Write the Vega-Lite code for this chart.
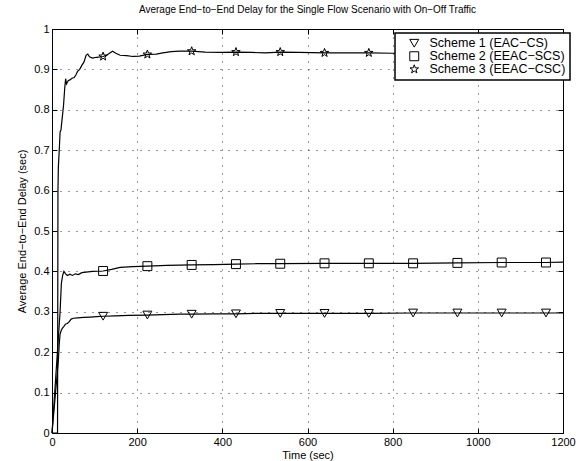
{
  "$schema": "https://vega.github.io/schema/vega-lite/v6.json",
  "width": 511,
  "height": 404,
  "autosize": "none",
  "padding": {"left": 52, "top": 29, "right": 13, "bottom": 28},
  "title": {"text": "Average End−to−End Delay for the Single Flow Scenario with On−Off Traffic", "fontSize": 10, "fontWeight": "normal", "font": "Liberation Sans", "color": "black", "offset": 8},
  "config": {
    "font": "Liberation Sans",
    "view": {"stroke": "black", "strokeWidth": 1},
    "axis": {
      "domainColor": "black", "tickColor": "black", "labelColor": "black", "titleColor": "black",
      "labelFontSize": 11, "titleFontSize": 11, "titleFontWeight": "normal", "labelFlush": false,
      "gridColor": "black", "gridDash": [1, 7], "gridWidth": 1, "gridOpacity": 0.8,
      "tickSize": -5, "labelPadding": 8
    },
    "legend": {
      "orient": "none", "legendX": 343, "legendY": 4,
      "fillColor": "white", "strokeColor": "black", "strokeWidth": 1.5,
      "padding": 4, "labelFontSize": 12.5, "labelColor": "black", "labelOffset": 9, "symbolOffset": 9,
      "symbolStrokeColor": "black", "symbolFillColor": "transparent", "symbolSize": 80, "symbolStrokeWidth": 1,
      "rowPadding": -2, "title": null
    }
  },
  "datasets": {
    "d": [
      {"s": "Scheme 1 (EAC−CS)", "t": 0, "v": 0, "m": 0},
      {"s": "Scheme 1 (EAC−CS)", "t": 15, "v": 0.18, "m": 0},
      {"s": "Scheme 1 (EAC−CS)", "t": 17, "v": 0.22, "m": 0},
      {"s": "Scheme 1 (EAC−CS)", "t": 19, "v": 0.245, "m": 0},
      {"s": "Scheme 1 (EAC−CS)", "t": 22, "v": 0.255, "m": 0},
      {"s": "Scheme 1 (EAC−CS)", "t": 25, "v": 0.26, "m": 0},
      {"s": "Scheme 1 (EAC−CS)", "t": 28, "v": 0.264, "m": 0},
      {"s": "Scheme 1 (EAC−CS)", "t": 32, "v": 0.27, "m": 0},
      {"s": "Scheme 1 (EAC−CS)", "t": 36, "v": 0.271, "m": 0},
      {"s": "Scheme 1 (EAC−CS)", "t": 40, "v": 0.275, "m": 0},
      {"s": "Scheme 1 (EAC−CS)", "t": 45, "v": 0.282, "m": 0},
      {"s": "Scheme 1 (EAC−CS)", "t": 50, "v": 0.284, "m": 0},
      {"s": "Scheme 1 (EAC−CS)", "t": 60, "v": 0.285, "m": 0},
      {"s": "Scheme 1 (EAC−CS)", "t": 75, "v": 0.286, "m": 0},
      {"s": "Scheme 1 (EAC−CS)", "t": 90, "v": 0.287, "m": 0},
      {"s": "Scheme 1 (EAC−CS)", "t": 105, "v": 0.288, "m": 0},
      {"s": "Scheme 1 (EAC−CS)", "t": 120, "v": 0.289, "m": 1},
      {"s": "Scheme 1 (EAC−CS)", "t": 150, "v": 0.29, "m": 0},
      {"s": "Scheme 1 (EAC−CS)", "t": 180, "v": 0.291, "m": 0},
      {"s": "Scheme 1 (EAC−CS)", "t": 224, "v": 0.292, "m": 1},
      {"s": "Scheme 1 (EAC−CS)", "t": 260, "v": 0.293, "m": 0},
      {"s": "Scheme 1 (EAC−CS)", "t": 300, "v": 0.294, "m": 0},
      {"s": "Scheme 1 (EAC−CS)", "t": 328, "v": 0.294, "m": 1},
      {"s": "Scheme 1 (EAC−CS)", "t": 380, "v": 0.295, "m": 0},
      {"s": "Scheme 1 (EAC−CS)", "t": 432, "v": 0.295, "m": 1},
      {"s": "Scheme 1 (EAC−CS)", "t": 480, "v": 0.296, "m": 0},
      {"s": "Scheme 1 (EAC−CS)", "t": 536, "v": 0.296, "m": 1},
      {"s": "Scheme 1 (EAC−CS)", "t": 640, "v": 0.296, "m": 1},
      {"s": "Scheme 1 (EAC−CS)", "t": 744, "v": 0.296, "m": 1},
      {"s": "Scheme 1 (EAC−CS)", "t": 848, "v": 0.297, "m": 1},
      {"s": "Scheme 1 (EAC−CS)", "t": 952, "v": 0.297, "m": 1},
      {"s": "Scheme 1 (EAC−CS)", "t": 1056, "v": 0.297, "m": 1},
      {"s": "Scheme 1 (EAC−CS)", "t": 1160, "v": 0.297, "m": 1},
      {"s": "Scheme 1 (EAC−CS)", "t": 1200, "v": 0.297, "m": 0},

      {"s": "Scheme 2 (EEAC−SCS)", "t": 0, "v": 0, "m": 0},
      {"s": "Scheme 2 (EEAC−SCS)", "t": 19, "v": 0.30, "m": 0},
      {"s": "Scheme 2 (EEAC−SCS)", "t": 22, "v": 0.37, "m": 0},
      {"s": "Scheme 2 (EEAC−SCS)", "t": 25, "v": 0.39, "m": 0},
      {"s": "Scheme 2 (EEAC−SCS)", "t": 28, "v": 0.40, "m": 0},
      {"s": "Scheme 2 (EEAC−SCS)", "t": 32, "v": 0.394, "m": 0},
      {"s": "Scheme 2 (EEAC−SCS)", "t": 36, "v": 0.39, "m": 0},
      {"s": "Scheme 2 (EEAC−SCS)", "t": 42, "v": 0.393, "m": 0},
      {"s": "Scheme 2 (EEAC−SCS)", "t": 48, "v": 0.39, "m": 0},
      {"s": "Scheme 2 (EEAC−SCS)", "t": 55, "v": 0.394, "m": 0},
      {"s": "Scheme 2 (EEAC−SCS)", "t": 62, "v": 0.392, "m": 0},
      {"s": "Scheme 2 (EEAC−SCS)", "t": 70, "v": 0.397, "m": 0},
      {"s": "Scheme 2 (EEAC−SCS)", "t": 80, "v": 0.398, "m": 0},
      {"s": "Scheme 2 (EEAC−SCS)", "t": 95, "v": 0.40, "m": 0},
      {"s": "Scheme 2 (EEAC−SCS)", "t": 120, "v": 0.401, "m": 1},
      {"s": "Scheme 2 (EEAC−SCS)", "t": 140, "v": 0.405, "m": 0},
      {"s": "Scheme 2 (EEAC−SCS)", "t": 160, "v": 0.41, "m": 0},
      {"s": "Scheme 2 (EEAC−SCS)", "t": 190, "v": 0.412, "m": 0},
      {"s": "Scheme 2 (EEAC−SCS)", "t": 224, "v": 0.413, "m": 1},
      {"s": "Scheme 2 (EEAC−SCS)", "t": 270, "v": 0.415, "m": 0},
      {"s": "Scheme 2 (EEAC−SCS)", "t": 328, "v": 0.416, "m": 1},
      {"s": "Scheme 2 (EEAC−SCS)", "t": 380, "v": 0.417, "m": 0},
      {"s": "Scheme 2 (EEAC−SCS)", "t": 432, "v": 0.418, "m": 1},
      {"s": "Scheme 2 (EEAC−SCS)", "t": 480, "v": 0.419, "m": 0},
      {"s": "Scheme 2 (EEAC−SCS)", "t": 536, "v": 0.419, "m": 1},
      {"s": "Scheme 2 (EEAC−SCS)", "t": 640, "v": 0.42, "m": 1},
      {"s": "Scheme 2 (EEAC−SCS)", "t": 744, "v": 0.42, "m": 1},
      {"s": "Scheme 2 (EEAC−SCS)", "t": 848, "v": 0.42, "m": 1},
      {"s": "Scheme 2 (EEAC−SCS)", "t": 952, "v": 0.421, "m": 1},
      {"s": "Scheme 2 (EEAC−SCS)", "t": 1056, "v": 0.422, "m": 1},
      {"s": "Scheme 2 (EEAC−SCS)", "t": 1160, "v": 0.422, "m": 1},
      {"s": "Scheme 2 (EEAC−SCS)", "t": 1200, "v": 0.423, "m": 0},

      {"s": "Scheme 3 (EEAC−CSC)", "t": 0, "v": 0, "m": 0},
      {"s": "Scheme 3 (EEAC−CSC)", "t": 13, "v": 0, "m": 0},
      {"s": "Scheme 3 (EEAC−CSC)", "t": 14, "v": 0.60, "m": 0},
      {"s": "Scheme 3 (EEAC−CSC)", "t": 15, "v": 0.66, "m": 0},
      {"s": "Scheme 3 (EEAC−CSC)", "t": 17, "v": 0.70, "m": 0},
      {"s": "Scheme 3 (EEAC−CSC)", "t": 19, "v": 0.745, "m": 0},
      {"s": "Scheme 3 (EEAC−CSC)", "t": 21, "v": 0.75, "m": 0},
      {"s": "Scheme 3 (EEAC−CSC)", "t": 24, "v": 0.78, "m": 0},
      {"s": "Scheme 3 (EEAC−CSC)", "t": 27, "v": 0.81, "m": 0},
      {"s": "Scheme 3 (EEAC−CSC)", "t": 30, "v": 0.855, "m": 0},
      {"s": "Scheme 3 (EEAC−CSC)", "t": 32, "v": 0.877, "m": 0},
      {"s": "Scheme 3 (EEAC−CSC)", "t": 34, "v": 0.864, "m": 0},
      {"s": "Scheme 3 (EEAC−CSC)", "t": 38, "v": 0.872, "m": 0},
      {"s": "Scheme 3 (EEAC−CSC)", "t": 42, "v": 0.874, "m": 0},
      {"s": "Scheme 3 (EEAC−CSC)", "t": 47, "v": 0.878, "m": 0},
      {"s": "Scheme 3 (EEAC−CSC)", "t": 52, "v": 0.88, "m": 0},
      {"s": "Scheme 3 (EEAC−CSC)", "t": 56, "v": 0.886, "m": 0},
      {"s": "Scheme 3 (EEAC−CSC)", "t": 60, "v": 0.895, "m": 0},
      {"s": "Scheme 3 (EEAC−CSC)", "t": 65, "v": 0.90, "m": 0},
      {"s": "Scheme 3 (EEAC−CSC)", "t": 70, "v": 0.91, "m": 0},
      {"s": "Scheme 3 (EEAC−CSC)", "t": 75, "v": 0.918, "m": 0},
      {"s": "Scheme 3 (EEAC−CSC)", "t": 80, "v": 0.935, "m": 0},
      {"s": "Scheme 3 (EEAC−CSC)", "t": 84, "v": 0.938, "m": 0},
      {"s": "Scheme 3 (EEAC−CSC)", "t": 88, "v": 0.931, "m": 0},
      {"s": "Scheme 3 (EEAC−CSC)", "t": 95, "v": 0.928, "m": 0},
      {"s": "Scheme 3 (EEAC−CSC)", "t": 105, "v": 0.930, "m": 0},
      {"s": "Scheme 3 (EEAC−CSC)", "t": 120, "v": 0.932, "m": 1},
      {"s": "Scheme 3 (EEAC−CSC)", "t": 128, "v": 0.935, "m": 0},
      {"s": "Scheme 3 (EEAC−CSC)", "t": 135, "v": 0.940, "m": 0},
      {"s": "Scheme 3 (EEAC−CSC)", "t": 142, "v": 0.945, "m": 0},
      {"s": "Scheme 3 (EEAC−CSC)", "t": 150, "v": 0.940, "m": 0},
      {"s": "Scheme 3 (EEAC−CSC)", "t": 160, "v": 0.935, "m": 0},
      {"s": "Scheme 3 (EEAC−CSC)", "t": 175, "v": 0.934, "m": 0},
      {"s": "Scheme 3 (EEAC−CSC)", "t": 190, "v": 0.932, "m": 0},
      {"s": "Scheme 3 (EEAC−CSC)", "t": 205, "v": 0.933, "m": 0},
      {"s": "Scheme 3 (EEAC−CSC)", "t": 224, "v": 0.937, "m": 1},
      {"s": "Scheme 3 (EEAC−CSC)", "t": 245, "v": 0.938, "m": 0},
      {"s": "Scheme 3 (EEAC−CSC)", "t": 260, "v": 0.941, "m": 0},
      {"s": "Scheme 3 (EEAC−CSC)", "t": 280, "v": 0.944, "m": 0},
      {"s": "Scheme 3 (EEAC−CSC)", "t": 300, "v": 0.945, "m": 0},
      {"s": "Scheme 3 (EEAC−CSC)", "t": 328, "v": 0.945, "m": 1},
      {"s": "Scheme 3 (EEAC−CSC)", "t": 360, "v": 0.943, "m": 0},
      {"s": "Scheme 3 (EEAC−CSC)", "t": 400, "v": 0.942, "m": 0},
      {"s": "Scheme 3 (EEAC−CSC)", "t": 432, "v": 0.943, "m": 1},
      {"s": "Scheme 3 (EEAC−CSC)", "t": 470, "v": 0.942, "m": 0},
      {"s": "Scheme 3 (EEAC−CSC)", "t": 500, "v": 0.941, "m": 0},
      {"s": "Scheme 3 (EEAC−CSC)", "t": 536, "v": 0.943, "m": 1},
      {"s": "Scheme 3 (EEAC−CSC)", "t": 580, "v": 0.942, "m": 0},
      {"s": "Scheme 3 (EEAC−CSC)", "t": 640, "v": 0.941, "m": 1},
      {"s": "Scheme 3 (EEAC−CSC)", "t": 690, "v": 0.941, "m": 0},
      {"s": "Scheme 3 (EEAC−CSC)", "t": 744, "v": 0.941, "m": 1},
      {"s": "Scheme 3 (EEAC−CSC)", "t": 800, "v": 0.940, "m": 0},
      {"s": "Scheme 3 (EEAC−CSC)", "t": 848, "v": 0.940, "m": 1},
      {"s": "Scheme 3 (EEAC−CSC)", "t": 952, "v": 0.940, "m": 1},
      {"s": "Scheme 3 (EEAC−CSC)", "t": 1056, "v": 0.940, "m": 1},
      {"s": "Scheme 3 (EEAC−CSC)", "t": 1160, "v": 0.940, "m": 1},
      {"s": "Scheme 3 (EEAC−CSC)", "t": 1200, "v": 0.940, "m": 0}
    ]
  },
  "data": {"name": "d"},
  "layer": [
    {
      "mark": {"type": "line", "color": "black", "strokeWidth": 1.2},
      "encoding": {
        "x": {"field": "t", "type": "quantitative", "scale": {"domain": [0, 1200], "nice": false},
              "axis": {"orient": "bottom", "title": "Time (sec)", "values": [0, 200, 400, 600, 800, 1000, 1200], "format": "d", "titlePadding": 2}},
        "y": {"field": "v", "type": "quantitative", "scale": {"domain": [0, 1], "nice": false},
              "axis": {"orient": "left", "title": "Average End−to−End Delay (sec)", "values": [0, 0.1, 0.2, 0.3, 0.4, 0.5, 0.6, 0.7, 0.8, 0.9, 1], "format": "~g", "titlePadding": 6}},
        "detail": {"field": "s", "type": "nominal"}
      }
    },
    {
      "transform": [{"filter": "datum.m == 1"}],
      "mark": {"type": "point", "filled": false, "color": "black", "strokeWidth": 1, "size": 80, "opacity": 1},
      "encoding": {
        "x": {"field": "t", "type": "quantitative", "axis": {"orient": "top", "labels": false, "grid": false, "title": null, "values": [0, 200, 400, 600, 800, 1000, 1200]}},
        "y": {"field": "v", "type": "quantitative", "axis": {"orient": "right", "labels": false, "grid": false, "title": null, "values": [0, 0.1, 0.2, 0.3, 0.4, 0.5, 0.6, 0.7, 0.8, 0.9, 1]}},
        "shape": {"field": "s", "type": "nominal",
                  "scale": {"domain": ["Scheme 1 (EAC−CS)", "Scheme 2 (EEAC−SCS)", "Scheme 3 (EEAC−CSC)"],
                            "range": ["triangle-down", "square", "M0,-1L0.235,-0.324L0.951,-0.309L0.38,0.124L0.588,0.809L0,0.4L-0.588,0.809L-0.38,0.124L-0.951,-0.309L-0.235,-0.324Z"]},
                  "legend": {"title": null}}
      }
    }
  ],
  "resolve": {"axis": {"x": "independent", "y": "independent"}}
}
